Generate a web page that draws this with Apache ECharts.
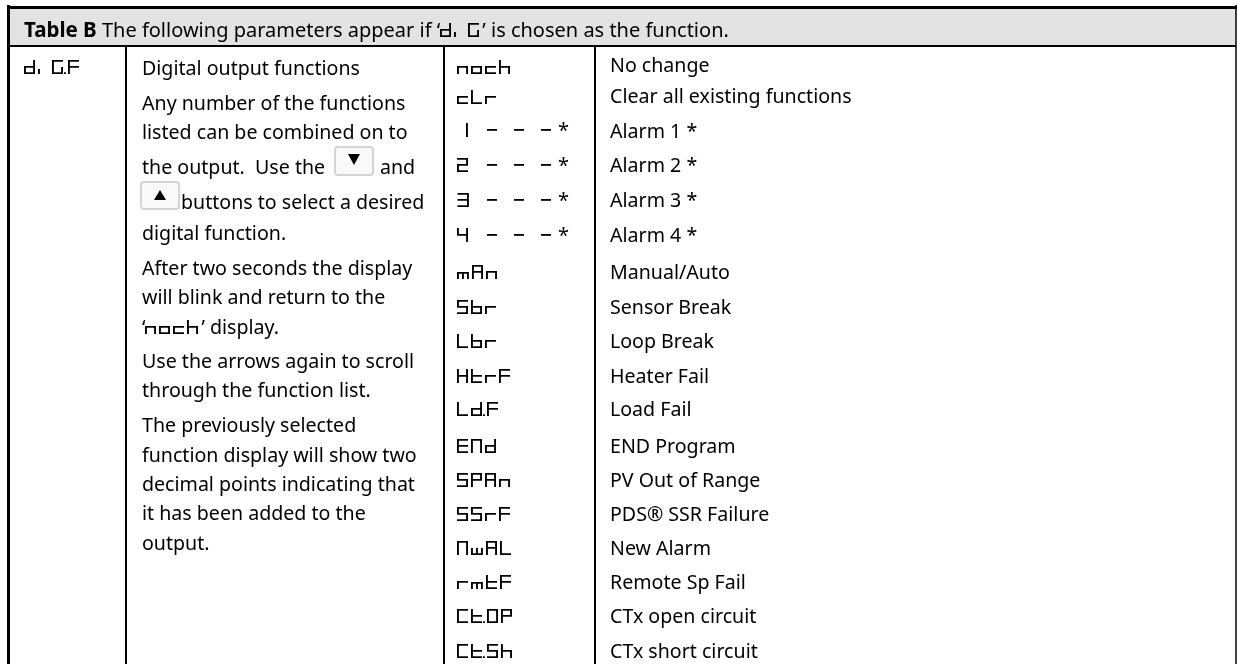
<!DOCTYPE html>
<html>
<head>
<meta charset="utf-8">
<style>
html, body { margin: 0; padding: 0; background: #fff; }
#main { width: 1237px; height: 664px; }
</style>
<script src="https://cdn.jsdelivr.net/npm/echarts@6/dist/echarts.min.js"></script>
</head>
<body>
<div id="main"></div>
<script>
// table text
const titleBold = 'Table B';
const titleBefore = ' The following parameters appear if \u2018';
const titleCode = 'di G';
const titleAfter = '\u2019 is chosen as the function.';
const paramCode = 'di G.F';
const leftLines = [
    'Digital output functions',
    'Any number of the functions',
    'listed can be combined on to',
    'the output.  Use the',
    'and',
    'buttons to select a desired',
    'digital function.',
    'After two seconds the display',
    'will blink and return to the',
    '\u2018{s|noch}\u2019 display.',
    'Use the arrows again to scroll',
    'through the function list.',
    'The previously selected',
    'function display will show two',
    'decimal points indicating that',
    'it has been added to the',
    'output.'
];
const codes = ['noch', 'cLr', '1 - - -\u2009*', '2 - - -\u2009*', '3 - - -\u2009*', '4 - - -\u2009*', 'mAn', 'Sbr', 'Lbr',
    'HtrF', 'Ld.F', 'ENd', 'SPAn', 'SSrF', 'NwAL', 'rmtF', 'Ct.OP', 'Ct.Sh'];
const meanings = ['No change', 'Clear all existing functions', 'Alarm 1 *', 'Alarm 2 *', 'Alarm 3 *', 'Alarm 4 *',
    'Manual/Auto', 'Sensor Break', 'Loop Break', 'Heater Fail', 'Load Fail', 'END Program', 'PV Out of Range',
    'PDS\u00ae SSR Failure', 'New Alarm', 'Remote Sp Fail', 'CTx open circuit', 'CTx short circuit'];

// layout, in page pixels
const rowY = [68, 98, 131, 166, 201, 236, 273, 308, 342, 377, 410, 447, 481, 515, 549, 583, 617, 652];
const meaningY = [66, 97, 132, 166, 201, 236, 273, 308, 342, 377, 410, 447, 481, 515, 549, 583, 617, 652];
const leftY = [69, 104, 133, 168, 168, 203, 234, 269, 298, 328, 362, 391, 426, 456, 485, 514, 544];
const leftX = [142, 142, 142, 142, 380, 181, 142, 142, 142, 142, 142, 142, 142, 142, 142, 142, 142];
const colX = [126, 444, 595];
const TEXT_FONT = '"Noto Sans"';
const CODE_FONT = 'Seg7, "Noto Sans"';
const FONT_SIZE = 19.6;
const CODE_SIZE = 20;

// No seven segment face is installed, so build a small one here and keep the codes as real text.
function segGlyphs() {
    const w = 560, h = 740, t = 95, m = 370;
    const seg = {
        a: [0, h - t, w, h], b: [w - t, m, w, h], c: [w - t, 0, w, m], d: [0, 0, w, t],
        e: [0, 0, t, m], f: [0, m, t, h], g: [0, m - t / 2, w, m + t / 2]
    };
    const small = { u: [0, m - t, w, m], l: [0, 0, t, m], r: [w - t, 0, w, m], x: [232, 0, 328, m], y: [0, 0, w, t] };
    const glyphs = {};
    const add = (ch, names) => { glyphs[ch] = { adv: 720, rects: names.split('').map(n => seg[n]) }; };
    const map = {
        n: 'ceg', o: 'cdeg', c: 'deg', h: 'cefg', L: 'def', r: 'eg', A: 'abcefg', S: 'acdfg', b: 'cdefg',
        H: 'bcefg', t: 'defg', F: 'aefg', d: 'bcdeg', E: 'adefg', N: 'abcef', P: 'abefg', C: 'adef', O: 'abcdef',
        G: 'acdef', 2: 'abdeg', 3: 'abcdg', 4: 'bcfg', 1: 'bc'
    };
    Object.keys(map).forEach(ch => add(ch, map[ch]));
    glyphs.m = { adv: 720, rects: [small.u, small.l, small.r, small.x] };
    glyphs.w = { adv: 720, rects: [small.y, small.l, small.r, small.x] };
    glyphs.i = { adv: 200, rects: [[0, 0, t, 260]] };
    glyphs['.'] = { adv: 60, rects: [[-125, 0, -35, t]] };
    glyphs['-'] = { adv: 880, rects: [[310, m - t / 2, 810, m + t / 2]] };
    glyphs[' '] = { adv: 520, rects: [] };
    glyphs['\u2009'] = { adv: 300, rects: [] };
    return glyphs;
}

function buildFont(glyphs) {
    const u16 = v => [(v >> 8) & 255, v & 255];
    const u32 = v => [(v >>> 24) & 255, (v >>> 16) & 255, (v >>> 8) & 255, v & 255];
    const chars = Object.keys(glyphs).sort((p, q) => p.charCodeAt(0) - q.charCodeAt(0));
    const n = chars.length + 1;
    let glyf = [], loca = u32(0).concat(u32(0)), hmtx = [].concat(u16(720), u16(0));
    let maxPts = 0, maxCont = 0;
    chars.forEach(ch => {
        const g = glyphs[ch];
        let left = 0;
        if (g.rects.length) {
            const xs = g.rects.flatMap(r => [r[0], r[2]]), ys = g.rects.flatMap(r => [r[1], r[3]]);
            left = Math.min(...xs);
            let out = [].concat(u16(g.rects.length), u16(left), u16(Math.min(...ys)), u16(Math.max(...xs)), u16(Math.max(...ys)));
            g.rects.forEach((r, i) => { out = out.concat(u16(i * 4 + 3)); });
            out = out.concat(u16(0));
            const count = g.rects.length * 4;
            for (let i = 0; i < count; i++) out.push(1);
            let px = 0, py = 0, dx = [], dy = [];
            g.rects.forEach(r => {
                [[r[0], r[1]], [r[0], r[3]], [r[2], r[3]], [r[2], r[1]]].forEach(p => {
                    dx = dx.concat(u16(p[0] - px)); dy = dy.concat(u16(p[1] - py));
                    px = p[0]; py = p[1];
                });
            });
            out = out.concat(dx, dy);
            while (out.length % 4) out.push(0);
            glyf = glyf.concat(out);
            maxPts = Math.max(maxPts, count); maxCont = Math.max(maxCont, g.rects.length);
        }
        loca = loca.concat(u32(glyf.length));
        hmtx = hmtx.concat(u16(g.adv), u16(left));
    });

    const segCount = chars.length + 1;
    const log = Math.floor(Math.log2(segCount));
    const ends = [], starts = [], deltas = [], offs = [];
    chars.forEach((ch, i) => {
        const c = ch.charCodeAt(0);
        ends.push(...u16(c)); starts.push(...u16(c)); deltas.push(...u16(i + 1 - c)); offs.push(...u16(0));
    });
    ends.push(...u16(0xffff)); starts.push(...u16(0xffff)); deltas.push(...u16(1)); offs.push(...u16(0));
    const sub = [].concat(u16(4), u16(16 + segCount * 8), u16(0), u16(segCount * 2), u16(2 << log), u16(log),
        u16(segCount * 2 - (2 << log)), ends, u16(0), starts, deltas, offs);
    const cmap = [].concat(u16(0), u16(1), u16(3), u16(1), u32(12), sub);

    const zeros = k => new Array(k).fill(0);
    const head = [].concat(u32(0x00010000), u32(0x00010000), u32(0), u32(0x5f0f3cf5), u16(0), u16(1000), zeros(16),
        u16(-200), u16(-100), u16(1500), u16(900), u16(0), u16(8), u16(2), u16(1), u16(0));
    const hhea = [].concat(u32(0x00010000), u16(800), u16(-200), u16(0), u16(1400), u16(-125), u16(0), u16(1200),
        u16(1), u16(0), u16(0), zeros(8), u16(0), u16(n));
    const maxp = [].concat(u32(0x00010000), u16(n), u16(maxPts), u16(maxCont), u16(0), u16(0), u16(2), zeros(16));
    const os2 = [].concat(u16(0), u16(720), u16(400), u16(5), u16(0), zeros(20), u16(0), zeros(10), zeros(16),
        [83, 69, 71, 55], u16(0x40), u16(32), u16(0xffff), u16(800), u16(-200), u16(0), u16(900), u16(200));
    const label = Array.from('Seg7').flatMap(c => u16(c.charCodeAt(0)));
    const name = [].concat(u16(0), u16(1), u16(18), u16(3), u16(1), u16(0x409), u16(1), u16(label.length), u16(0), label);
    const post = [].concat(u32(0x00030000), zeros(28));

    const tables = [['OS/2', os2], ['cmap', cmap], ['glyf', glyf], ['head', head], ['hhea', hhea],
        ['hmtx', hmtx], ['loca', loca], ['maxp', maxp], ['name', name], ['post', post]];
    const tlog = Math.floor(Math.log2(tables.length));
    let dir = [].concat(u32(0x00010000), u16(tables.length), u16(16 << tlog), u16(tlog), u16(tables.length * 16 - (16 << tlog)));
    let body = [];
    const base = 12 + tables.length * 16;
    tables.forEach(([tag, data]) => {
        const padded = data.slice();
        while (padded.length % 4) padded.push(0);
        let sum = 0;
        for (let i = 0; i < padded.length; i += 4) {
            sum = (sum + ((padded[i] << 24) | (padded[i + 1] << 16) | (padded[i + 2] << 8) | padded[i + 3])) >>> 0;
        }
        dir = dir.concat(Array.from(tag).map(c => c.charCodeAt(0)), u32(sum), u32(base + body.length), u32(data.length));
        body = body.concat(padded);
    });
    return new Uint8Array(dir.concat(body)).buffer;
}

function hLine(x1, x2, y, width) {
    return { type: 'line', shape: { x1: x1, y1: y, x2: x2, y2: y }, style: { stroke: '#000', lineWidth: width } };
}
function vLine(x, y1, y2, width) {
    return { type: 'line', shape: { x1: x, y1: y1, x2: x, y2: y2 }, style: { stroke: '#000', lineWidth: width } };
}
function label(x, y, text, font, size, rich) {
    return {
        type: 'text', x: x, y: y, z: 5,
        style: { text: text, fontFamily: font, fontSize: size, fill: '#000', verticalAlign: 'middle', rich: rich }
    };
}
function button(x, y, h, up) {
    const cx = x + 19, cy = y + (up ? 13 : 12);
    const pts = up ? [[cx - 6, cy + 5], [cx + 6, cy + 5], [cx, cy - 5]] : [[cx - 6, cy - 5], [cx + 6, cy - 5], [cx, cy + 6]];
    return [
        { type: 'rect', shape: { x: x, y: y, width: 38, height: h, r: 3 }, style: { fill: '#f9f9f9', stroke: '#d4d4d4', lineWidth: 2 } },
        { type: 'polygon', z: 5, shape: { points: pts }, style: { fill: '#000' } }
    ];
}

function draw() {
    const codeRich = { fontFamily: CODE_FONT, fontSize: CODE_SIZE, fill: '#000' };
    const elements = [
        { type: 'rect', shape: { x: 8, y: 8, width: 1228, height: 38 }, style: { fill: '#e3e3e3' } },
        hLine(7, 1237, 7.5, 3),
        hLine(7, 1236, 46, 2),
        vLine(8.5, 5, 664, 3),
        vLine(1236, 5, 664, 1.5)
    ];
    colX.forEach(x => elements.push(vLine(x, 46, 664, 2)));
    elements.push(label(24, 31, '{b|' + titleBold + '}' + titleBefore + '{s|' + titleCode + '}' + titleAfter, TEXT_FONT, 20, {
        b: { fontFamily: TEXT_FONT, fontSize: 20.5, fontWeight: 'bold', fill: '#000' },
        s: codeRich
    }));
    elements.push(label(24, rowY[0], paramCode, CODE_FONT, CODE_SIZE));
    leftLines.forEach((line, i) => elements.push(label(leftX[i], leftY[i], line, TEXT_FONT, FONT_SIZE, { s: codeRich })));
    elements.push(...button(335, 147, 28, false), ...button(141, 182, 27, true));
    codes.forEach((code, i) => elements.push(label(457, rowY[i], code, CODE_FONT, CODE_SIZE)));
    meanings.forEach((text, i) => elements.push(label(610, meaningY[i], text, TEXT_FONT, FONT_SIZE)));

    const chart = echarts.init(document.getElementById('main'));
    chart.setOption({ animation: false, graphic: { elements: elements } });
}

const face = new FontFace('Seg7', buildFont(segGlyphs()));
face.load().then(f => { document.fonts.add(f); draw(); }).catch(() => draw());
</script>
</body>
</html>
